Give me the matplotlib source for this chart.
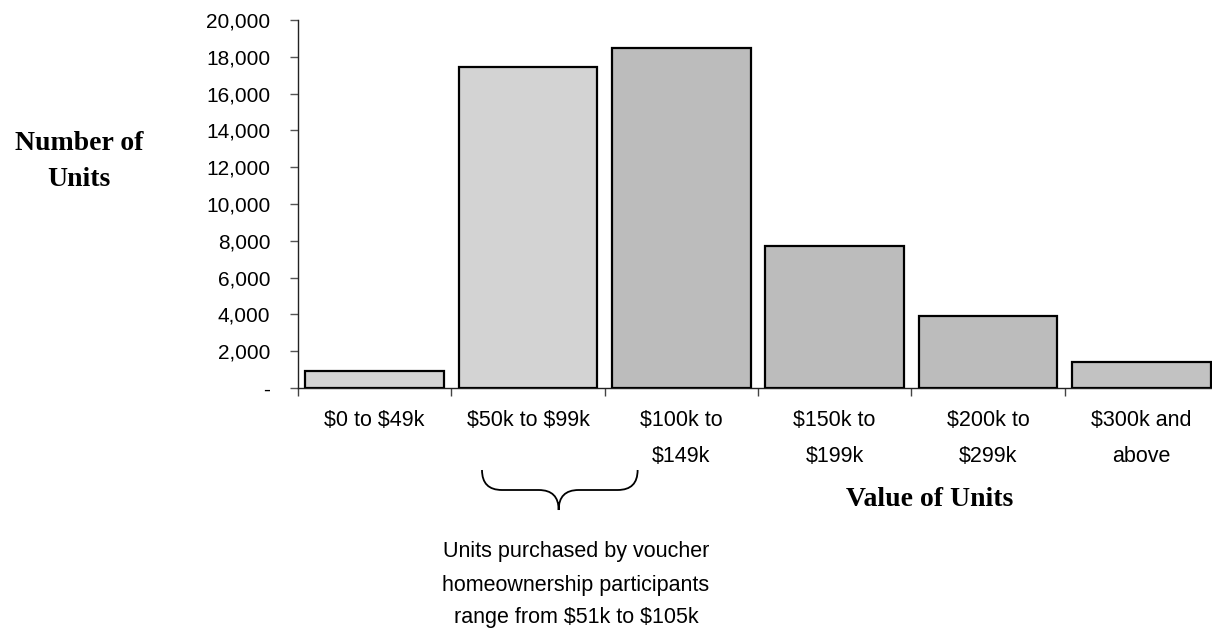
import numpy as np
import matplotlib
matplotlib.use('Agg')
import matplotlib.pyplot as plt
from matplotlib.path import Path
from matplotlib.patches import PathPatch
from matplotlib.ticker import FuncFormatter
import matplotlib.transforms as mtransforms

# data
categories = ['$0 to $49k', '$50k to $99k', '$100k to\n$149k', '$150k to\n$199k',
              '$200k to\n$299k', '$300k and\nabove']
units = [900, 17450, 18500, 7700, 3900, 1400]
bar_colors = ['#d3d3d3', '#d3d3d3', '#bcbcbc', '#bcbcbc', '#bcbcbc', '#c2c2c2']
note = 'Units purchased by voucher\nhomeownership participants\nrange from $51k to $105k'

plt.rcParams['text.parse_math'] = False
plt.rcParams['font.family'] = ['Liberation Sans', 'DejaVu Sans']

fig = plt.figure(figsize=(12.12, 6.28), dpi=100)
ax = fig.add_axes([298/1212, 1-388/628, 920/1212, 368/628])

x = np.arange(len(categories))
ax.bar(x, units, width=0.905, color=bar_colors, edgecolor='black', linewidth=1.6, zorder=3)

ax.set_xlim(-0.5, len(categories) - 0.5)
ax.set_ylim(0, 20000)
ax.set_yticks(np.arange(0, 20001, 2000))
ax.yaxis.set_major_formatter(FuncFormatter(lambda v, p: '-' if v == 0 else f'{v:,.0f}'))

ax.set_xticks(x)
ax.set_xticklabels(categories, fontsize=15.5, linespacing=1.95)
ax.set_xticks(np.arange(-0.5, len(categories)), minor=True)
ax.tick_params(axis='x', which='major', length=0, pad=16)
ax.tick_params(axis='x', which='minor', length=6, width=1, color='#444444', direction='out')
ax.tick_params(axis='y', length=6, width=1, color='#555555', labelsize=15, pad=14)

for s in ['top', 'right']:
    ax.spines[s].set_visible(False)
for s in ['left', 'bottom']:
    ax.spines[s].set_color('#222222')
    ax.spines[s].set_linewidth(1)

fig.text(79/1212, 1-143/628, 'Number of', family='Liberation Serif', fontweight='bold',
         fontsize=20, ha='center', va='center')
fig.text(79/1212, 1-180/628, 'Units', family='Liberation Serif', fontweight='bold',
         fontsize=20, ha='center', va='center')
fig.text(930/1212, 1-500/628, 'Value of Units', family='Liberation Serif', fontweight='bold',
         fontsize=20, ha='center', va='center')

# curly brace under the $50k-$100k range
trans = mtransforms.blended_transform_factory(ax.transData, fig.transFigure)
x0, x1, xm = 0.70, 1.715, 1.20
ytop, ymid, ybot = 1-470/628, 1-490/628, 1-510/628
r = 0.13
verts = [(x0, ytop), (x0, ymid), (x0 + r, ymid),
         (xm - r, ymid), (xm, ymid), (xm, ybot),
         (xm, ymid), (xm + r, ymid),
         (x1 - r, ymid), (x1, ymid), (x1, ytop)]
codes = [Path.MOVETO, Path.CURVE3, Path.CURVE3,
         Path.LINETO, Path.CURVE3, Path.CURVE3,
         Path.CURVE3, Path.CURVE3,
         Path.LINETO, Path.CURVE3, Path.CURVE3]
ax.add_patch(PathPatch(Path(verts, codes), transform=trans, fill=False,
                       edgecolor='black', linewidth=1.3, clip_on=False))

fig.text(576/1212, 1-585/628, note, fontsize=15.5, ha='center', va='center',
         linespacing=1.75)

fig.savefig('out.png', dpi=100)
